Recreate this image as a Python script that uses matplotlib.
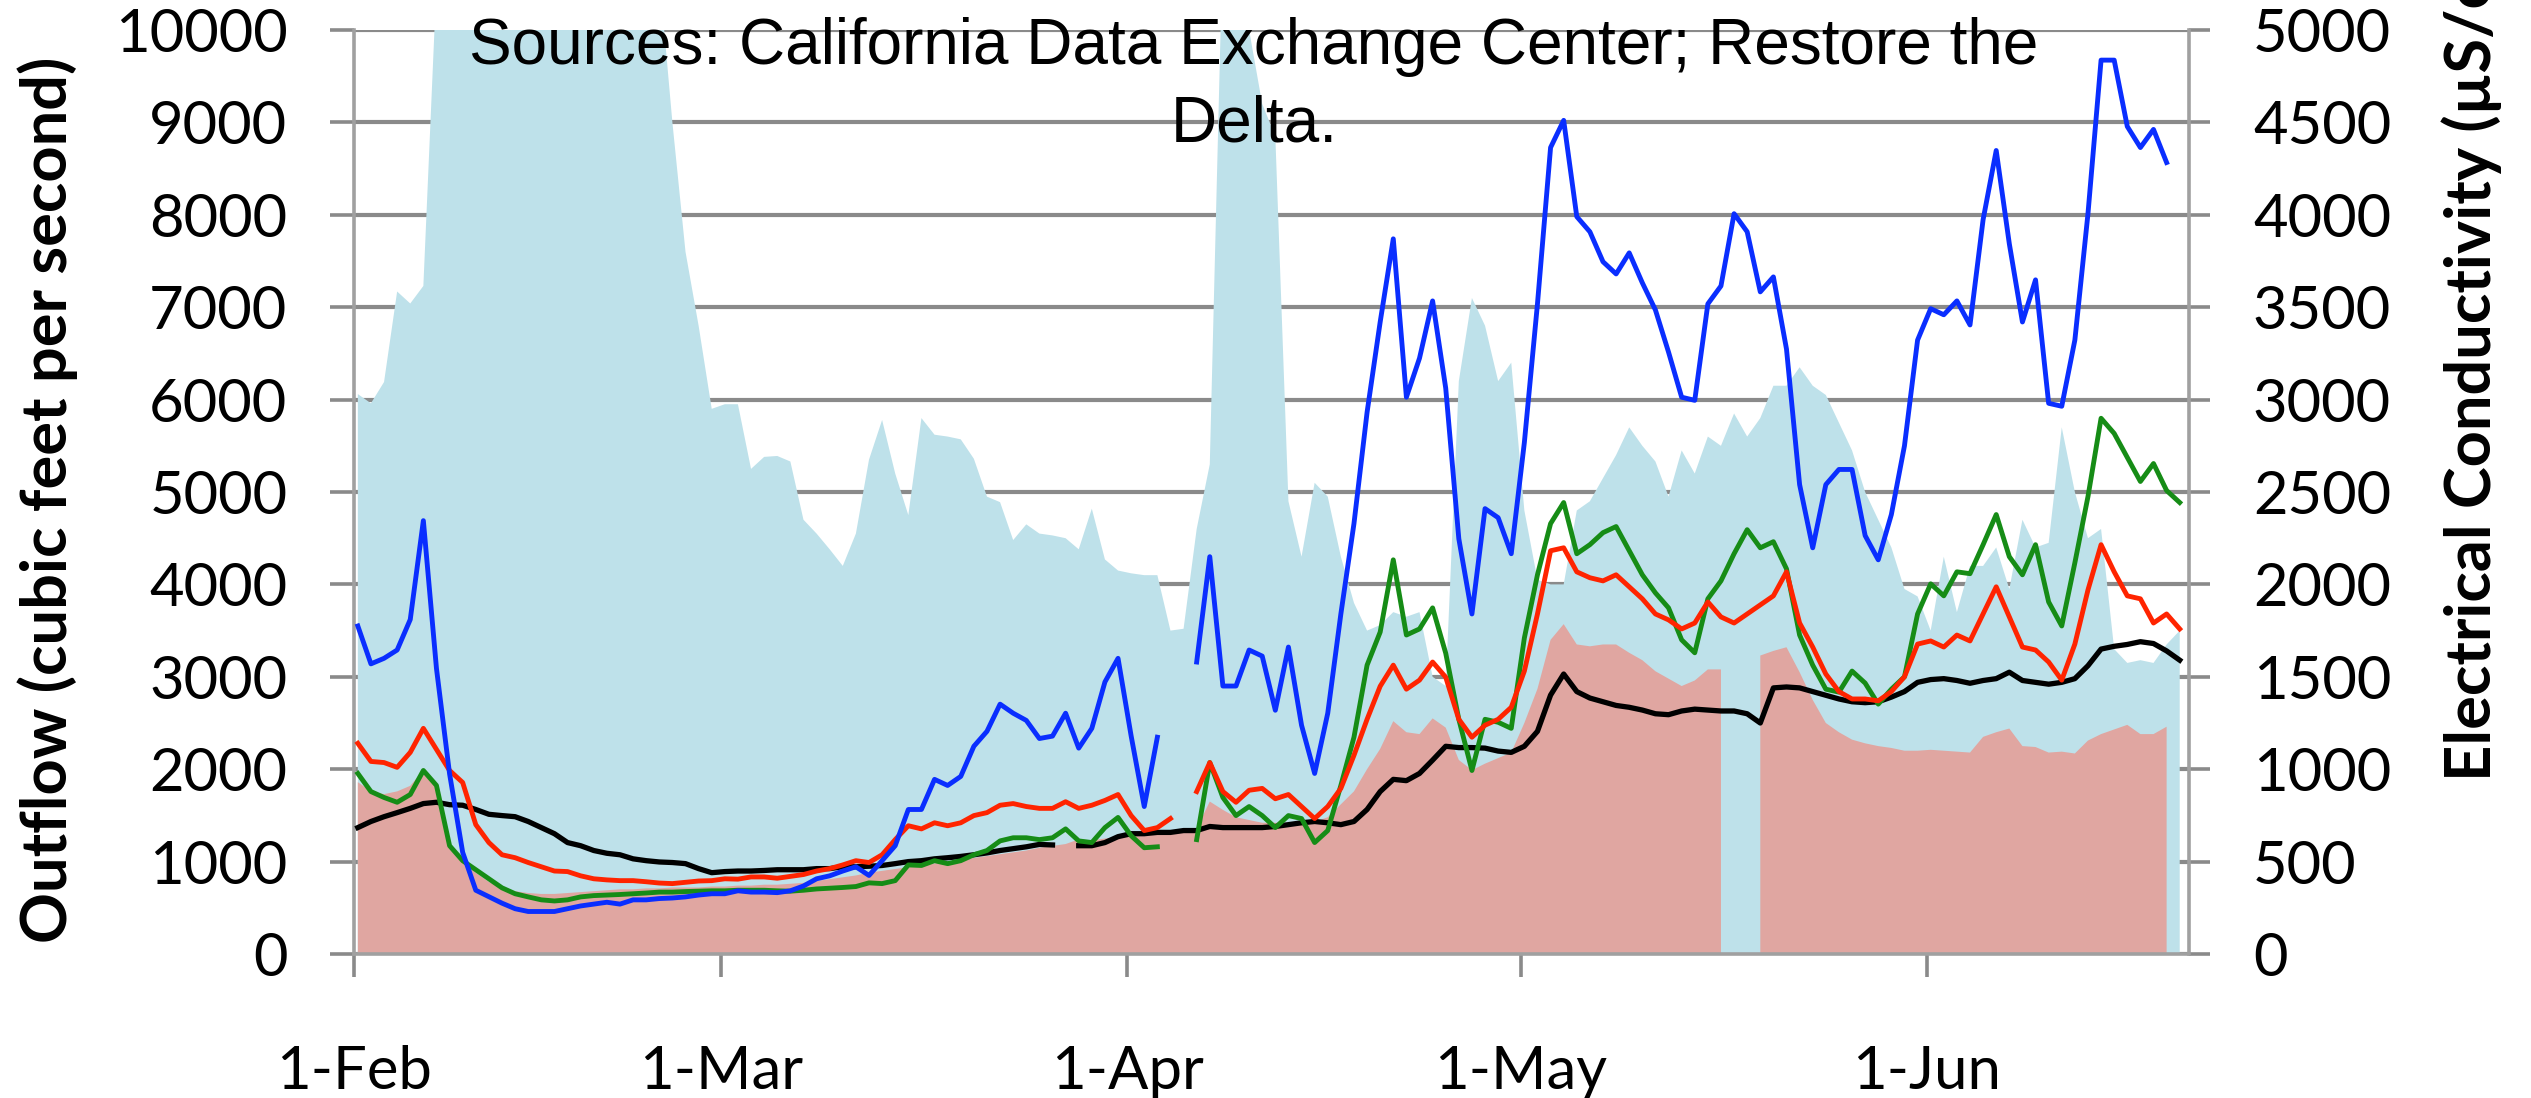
import numpy as np
import pandas as pd
import matplotlib
matplotlib.use("Agg")
import matplotlib.pyplot as plt
import matplotlib.dates as mdates

nan = np.nan

# daily values, 1 Feb - 20 Jun
dates = pd.date_range("2014-02-01", "2014-06-20", freq="D")

# outflow, cfs (left axis) - values above 10000 run off the top of the chart
outflow = [6060, 5960, 6190, 7170, 7040, 7230, 10500, 13000, 16000, 20000,
           24000, 26000, 28000, 30000, 27000, 24000, 22000, 20000, 18000, 16000,
           14000, 12500, 11500, 10600, 9000, 7600, 6800, 5900, 5950, 5950,
           5250, 5380, 5390, 5330, 4700, 4550, 4380, 4200, 4550, 5350,
           5780, 5200, 4750, 5800, 5620, 5600, 5570, 5360, 4950, 4890,
           4480, 4650, 4550, 4530, 4500, 4380, 4820, 4270, 4150, 4120,
           4100, 4100, 3500, 3520, 4600, 5300, 11000, 12000, 10000, 9200,
           8850, 4900, 4300, 5100, 4950, 4300, 3800, 3500, 3560, 3700,
           3650, 3700, 3000, 2900, 6200, 7100, 6800, 6200, 6400, 4800,
           4050, 4000, 4000, 4800, 4900, 5150, 5400, 5700, 5500, 5330,
           4950, 5450, 5200, 5600, 5500, 5850, 5600, 5800, 6150, 6150,
           6350, 6150, 6050, 5750, 5450, 5000, 4700, 4400, 3950, 3870,
           3500, 4300, 3700, 4200, 4200, 4400, 3950, 4700, 4400, 4450,
           5700, 5000, 4500, 4600, 3300, 3150, 3180, 3150, 3350, 3500]

base_flow = [1860, 1760, 1730, 1760, 1820, 1990, 1820, 1200, 1000, 880,
             780, 720, 680, 660, 650, 650, 660, 670, 680, 690,
             700, 700, 710, 710, 720, 720, 720, 730, 730, 740,
             740, 750, 750, 760, 770, 790, 810, 830, 850, 880,
             900, 920, 940, 960, 980, 1000, 1020, 1040, 1060, 1080,
             1100, 1120, 1150, 1170, 1190, 1240, 1230, 1250, 1260, 1280,
             1300, 1310, 1320, 1330, 1360, 1650, 1560, 1480, 1450, 1420,
             1420, 1420, 1420, 1430, 1480, 1620, 1760, 2000, 2220, 2520,
             2400, 2380, 2550, 2450, 2100, 1990, 2060, 2120, 2180, 2500,
             2870, 3400, 3570, 3350, 3330, 3350, 3350, 3260, 3180, 3060,
             2980, 2900, 2960, 3080, 3080, nan, nan, 3230, 3280, 3320,
             3050, 2750, 2500, 2400, 2320, 2280, 2250, 2230, 2200, 2200,
             2210, 2200, 2190, 2180, 2350, 2400, 2440, 2250, 2240, 2180,
             2190, 2170, 2310, 2380, 2430, 2480, 2380, 2380, 2460, nan]

# electrical conductivity, uS/cm (right axis)
ec_blue = [1775, 1570, 1600, 1645, 1810, 2345, 1545, 975, 550, 345,
           310, 275, 245, 230, 230, 230, 245, 260, 270, 280,
           270, 293, 293, 300, 303, 309, 319, 326, 326, 342,
           335, 335, 332, 342, 368, 407, 423, 449, 472, 425,
           505, 586, 782, 782, 945, 912, 961, 1124, 1205, 1352,
           1303, 1264, 1166, 1179, 1303, 1114, 1221, 1472, 1600, 1180,
           798, 1173, nan, nan, 1580, 2150, 1450, 1450, 1645, 1612,
           1319, 1661, 1238, 977, 1303, 1840, 2329, 2931, 3420, 3870,
           3013, 3224, 3534, 3062, 2247, 1840, 2410, 2361, 2166, 2768,
           3518, 4364, 4511, 3990, 3908, 3746, 3680, 3794, 3632, 3485,
           3257, 3013, 2996, 3518, 3615, 4006, 3908, 3583, 3664, 3273,
           2540, 2198, 2540, 2622, 2622, 2264, 2133, 2378, 2750, 3322,
           3492, 3459, 3534, 3404, 3974, 4348, 3843, 3420, 3648, 2980,
           2964, 3322, 4006, 4837, 4837, 4478, 4364, 4462, 4283, nan]

ec_green = [977, 879, 847, 821, 863, 993, 912, 586, 505, 456,
            407, 358, 326, 309, 293, 287, 293, 309, 316, 319,
            322, 326, 330, 335, 335, 338, 340, 342, 342, 345,
            345, 345, 342, 340, 345, 352, 356, 360, 365, 385,
            381, 397, 482, 479, 505, 489, 505, 537, 560, 612,
            629, 629, 619, 629, 677, 612, 603, 684, 739, 640,
            575, 580, nan, nan, 619, 1036, 847, 749, 798, 749,
            684, 749, 733, 603, 668, 912, 1173, 1563, 1742, 2133,
            1726, 1759, 1873, 1628, 1270, 993, 1270, 1254, 1221, 1710,
            2052, 2329, 2443, 2166, 2215, 2280, 2313, 2182, 2052, 1954,
            1873, 1700, 1630, 1922, 2019, 2166, 2296, 2198, 2231, 2084,
            1726, 1563, 1433, 1417, 1531, 1466, 1352, 1433, 1500, 1840,
            2003, 1938, 2068, 2058, 2215, 2378, 2150, 2052, 2215, 1905,
            1775, 2117, 2475, 2899, 2817, 2687, 2557, 2654, 2508, 2443]

ec_red = [1140, 1042, 1036, 1010, 1091, 1221, 1107, 993, 928, 700,
          603, 537, 521, 495, 472, 449, 446, 423, 407, 401,
          397, 397, 391, 384, 381, 388, 395, 397, 407, 405,
          417, 417, 410, 420, 430, 449, 462, 482, 505, 495,
          537, 619, 694, 677, 710, 694, 710, 749, 765, 805,
          814, 798, 788, 788, 824, 788, 805, 831, 863, 749,
          668, 684, 733, nan, 879, 1036, 879, 821, 886, 896,
          840, 863, 798, 733, 798, 896, 1075, 1270, 1449, 1563,
          1433, 1482, 1580, 1498, 1270, 1173, 1238, 1270, 1335, 1531,
          1840, 2182, 2198, 2068, 2036, 2019, 2052, 1987, 1922, 1840,
          1808, 1759, 1791, 1905, 1824, 1791, 1840, 1889, 1938, 2068,
          1791, 1661, 1515, 1420, 1380, 1380, 1370, 1420, 1500, 1677,
          1694, 1661, 1726, 1694, 1840, 1987, 1824, 1661, 1645, 1580,
          1482, 1677, 1970, 2215, 2068, 1938, 1922, 1791, 1840, 1759]

ec_black = [684, 717, 743, 765, 788, 814, 821, 808, 805, 782,
            756, 749, 743, 717, 684, 651, 603, 586, 560, 545,
            537, 515, 505, 498, 495, 489, 462, 440, 446, 449,
            449, 452, 456, 456, 456, 462, 462, 472, 472, 475,
            479, 489, 500, 505, 515, 521, 528, 537, 547, 560,
            570, 580, 593, 590, nan, 586, 586, 603, 635, 651,
            651, 658, 658, 668, 668, 690, 684, 684, 684, 684,
            690, 700, 710, 717, 710, 700, 717, 782, 879, 945,
            938, 977, 1049, 1124, 1117, 1117, 1114, 1098, 1091, 1124,
            1205, 1401, 1515, 1420, 1385, 1365, 1345, 1335, 1320, 1300,
            1295, 1315, 1325, 1320, 1315, 1315, 1300, 1250, 1440, 1445,
            1440, 1420, 1400, 1380, 1365, 1360, 1365, 1390, 1420, 1470,
            1485, 1490, 1480, 1465, 1480, 1490, 1525, 1480, 1470, 1460,
            1470, 1490, 1560, 1650, 1665, 1675, 1690, 1680, 1640, 1590]

source_lines = ["Sources: California Data Exchange Center; Restore the", "Delta."]

W, H = 2531, 1098
GRAY = "#8a8a8a"
plt.rcParams["font.family"] = ["Lato", "DejaVu Sans"]

fig = plt.figure(figsize=(W / 100, H / 100), dpi=100)
ax = fig.add_axes([354 / W, 1 - 954 / H, (2189 - 354) / W, (954 - 30) / H])

x = dates + pd.Timedelta(hours=7)
ax.fill_between(x, 0, np.array(outflow, float), color="#bee1ea", linewidth=0, zorder=1)
ax.fill_between(x, 0, np.array(base_flow, float), color="#e0a6a1", linewidth=0, zorder=1.5)

ax.set_ylim(0, 10000)
ax.set_yticks(np.arange(0, 10001, 1000))
ax.set_xlim(pd.Timestamp("2014-02-01"), pd.Timestamp("2014-06-21"))
ax.xaxis.set_major_locator(mdates.MonthLocator())
ax.xaxis.set_major_formatter(mdates.DateFormatter("1-%b"))
ax.set_axisbelow(True)
ax.grid(axis="y", color=GRAY, linewidth=3.0, zorder=0)
ax.grid(axis="x", visible=False)

ax2 = ax.twinx()
ax2.plot(x, ec_black, color="black", linewidth=3.8)
ax2.plot(x, ec_green, color="#168c16", linewidth=3.5)
ax2.plot(x, ec_red, color="#ff2400", linewidth=3.5)
ax2.plot(x, ec_blue, color="#0a2eff", linewidth=3.5)
ax2.set_ylim(0, 5000)
ax2.set_yticks(np.arange(0, 5001, 500))

for a in (ax, ax2):
    for s in a.spines.values():
        s.set_color("#a0a0a0")
        s.set_linewidth(2.6)
    a.spines["top"].set_visible(False)
ax.spines["right"].set_visible(False)
ax2.spines["left"].set_visible(False)
ax2.spines["bottom"].set_visible(False)

ax.tick_params(axis="y", length=17, width=2.6, color=GRAY, pad=31, labelsize=43)
ax.tick_params(axis="x", length=16.5, width=2.6, color=GRAY, pad=49, labelsize=43)
ax2.tick_params(axis="y", length=15, width=2.6, color=GRAY, pad=31, labelsize=43)

# axis titles and source note
ylab = fig.text(48 / W, 1 - 500 / H, "Outflow (cubic feet per second)", rotation=90,
                ha="center", va="center", fontweight="bold", fontsize=40)
ylab2 = fig.text(2472 / W, 1 - 781 / H, "Electrical Conductivity (\u00b5S/cm)", rotation=90,
                 ha="center", va="bottom", fontweight="bold", fontsize=40)
src1 = fig.text(1254 / W, 1 - 64 / H, source_lines[0], ha="center", va="baseline",
                family="Liberation Sans", fontsize=44)
src2 = fig.text(1254 / W, 1 - 141 / H, source_lines[1], ha="center", va="baseline",
                family="Liberation Sans", fontsize=44)

# scale the free texts to the measured lengths
renderer = fig.canvas.get_renderer()
h = ylab.get_window_extent(renderer).height
ylab.set_fontsize(ylab.get_fontsize() * 885 / h)
ylab2.set_fontsize(ylab.get_fontsize())
w = src1.get_window_extent(renderer).width
src1.set_fontsize(src1.get_fontsize() * 1572 / w)
src2.set_fontsize(src1.get_fontsize())

fig.savefig("out.png", dpi=100)
